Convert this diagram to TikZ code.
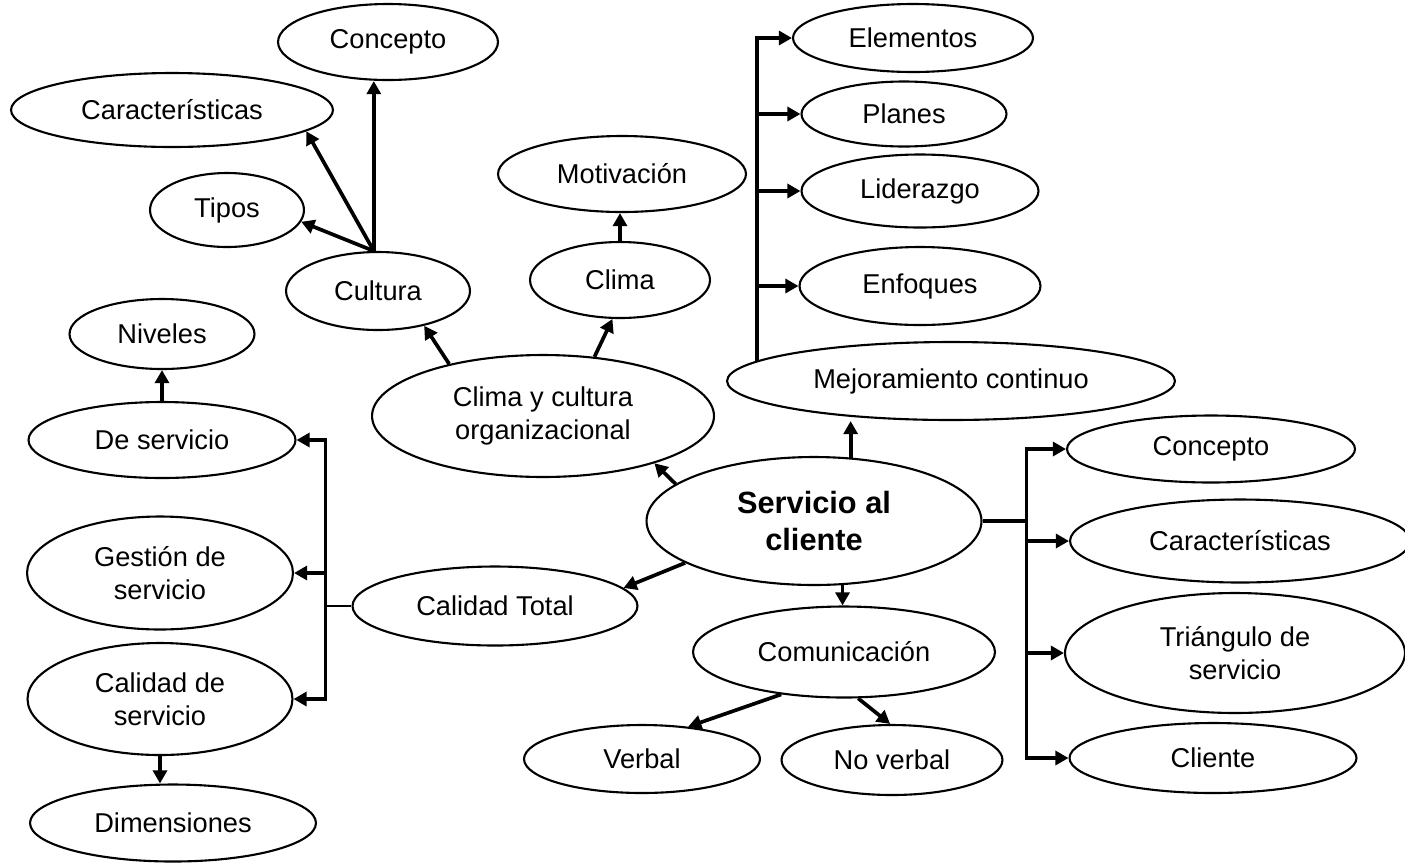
\documentclass[tikz,border=0pt]{standalone}
\usepackage{fontspec}
\setmainfont{Liberation Sans}
\usetikzlibrary{shapes.geometric,arrows.meta,calc}

\tikzset{
  ell/.style 2 args={ellipse, draw, line width=1.2pt, inner sep=0pt, align=center,
    minimum width=#1cm, minimum height=#2cm, font=\fontsize{15.5}{18.5}\selectfont},
  link/.style={line width=2.1pt},
  arr/.style={link, -{Triangle[length=7.5pt,width=8pt]}},
  arrtwo/.style={link, line join=miter,
    {Triangle[length=7.5pt,width=8pt]}-{Triangle[length=7.5pt,width=8pt]}},
}

\begin{document}
\begin{tikzpicture}[x=0.02cm,y=-0.02cm]
%\draw [help lines,step=50] (0,0) grid (1405,863);
\useasboundingbox (0,0) rectangle (1405,863);

% centro
\node [ell={6.7}{2.56}, font=\fontsize{17.5}{21}\selectfont\bfseries] (serv) at (814,521) {Servicio al\\cliente};

% cultura y clima
\node [ell={6.84}{2.44}] (cyc) at (543,416) {Clima y cultura\\organizacional};
\node [ell={3.68}{1.56}] (cultura) at (378,291) {Cultura};
\node [ell={4.4}{1.52}] (conc1) at (388,42) {Concepto};
\node [ell={6.44}{1.48}] (carac1) at (172,110) {Características};
\node [ell={3.08}{1.48}] (tipos) at (227,210) {Tipos};
\node [ell={3.6}{1.52}] (clima) at (620,280) {Clima};
\node [ell={4.96}{1.52}] (motiv) at (622,174) {Motivación};

% mejoramiento
\node [ell={8.96}{1.56}] (mejora) at (951,381) {Mejoramiento continuo};
\node [ell={4.8}{1.36}] (elem) at (913,38) {Elementos};
\node [ell={4.1}{1.3}] (planes) at (904,114) {Planes};
\node [ell={4.74}{1.46}] (lider) at (920,191) {Liderazgo};
\node [ell={4.82}{1.56}] (enfoq) at (920,286) {Enfoques};

% calidad total
\node [ell={5.7}{1.58}] (caltot) at (495,606) {Calidad Total};
\node [ell={5.34}{1.52}] (deserv) at (162,440) {De servicio};
\node [ell={3.7}{1.4}] (niveles) at (162,334) {Niveles};
\node [ell={5.32}{2.26}] (gestion) at (160,573) {Gestión de\\servicio};
\node [ell={5.3}{2.24}] (calserv) at (160,699) {Calidad de\\servicio};
\node [ell={5.72}{1.54}] (dimen) at (173,823) {Dimensiones};

% comunicacion
\node [ell={6.04}{1.82}] (comun) at (844,652) {Comunicación};
\node [ell={4.72}{1.36}] (verbal) at (642,759) {Verbal};
\node [ell={4.42}{1.4}] (noverbal) at (892,760) {No verbal};

% derecha
\node [ell={5.76}{1.34}] (conc2) at (1211,449) {Concepto};
\node [ell={6.8}{1.66}] (carac2) at (1240,541) {Características};
\node [ell={6.8}{2.4}] (triang) at (1235,653) {Triángulo de\\servicio};
\node [ell={5.74}{1.4}] (cliente) at (1213,758) {Cliente};

\coordinate (rj) at ($(serv.east)+(44,0)$);
\coordinate (lj) at ($(caltot.west)+(-26,0)$);

% flechas cultura
\draw [arr] (cultura.96) -- (cultura.96 |- conc1.south);
\draw [arr] (cultura.96) -- (carac1.-9);
\draw [arr] (cultura.96) -- (tipos.-9);
\draw [arr] (cyc.151) -- (cultura.-37);
\draw [arr] (cyc.49) -- (clima.-101);
\draw [arr] (clima.north) -- (clima.north |- motiv.south);
\draw [arr] (serv.165) -- (cyc.-23);

% mejoramiento
\draw [arr] (serv.60) -- (serv.60 |- mejora.south);
\draw [arr] (mejora.174) |- (elem.west);
\foreach \n in {planes,lider,enfoq}
  \draw [arr] (mejora.174 |- \n.west) -- (\n.west);

% calidad total
\draw [arr] (serv.198) -- (caltot.8);
\draw [line width=1.6pt] (caltot.west) -- (lj);
\draw [arrtwo] (deserv.east) -| (lj) |- (calserv.east);
\draw [arr] (lj |- gestion.east) -- (gestion.east);
\draw [arr] (deserv.north) -- (niveles.south);
\draw [arr] (calserv.south) -- (calserv.south |- dimen.north);

% comunicacion
\draw [arr] (serv.-66) -- (serv.-66 |- comun.north);
\draw [arr] (comun.214) -- (verbal.35);
\draw [arr] (comun.-73) -- (noverbal.93);

% derecha
\draw [link] (serv.east) -- (rj);
\draw [arrtwo] (conc2.west) -| (rj) |- (cliente.west);
\draw [arr] (rj |- carac2.west) -- (carac2.west);
\draw [arr] (rj |- triang.west) -- (triang.west);
\end{tikzpicture}
\end{document}
